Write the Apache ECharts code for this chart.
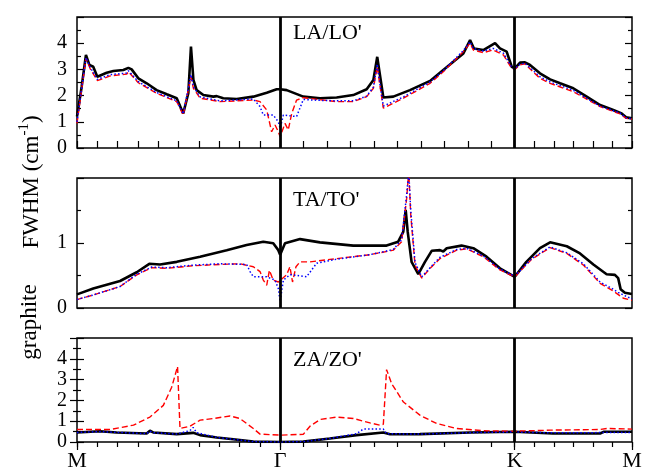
<!DOCTYPE html>
<html>
<head>
<meta charset="utf-8">
<script src="https://cdn.jsdelivr.net/npm/echarts@6/dist/echarts.min.js"></script>
<style>
html,body{margin:0;padding:0;background:#fff;}
#chart{width:654px;height:473px;}
</style>
</head>
<body>
<div id="chart"></div>
<script>
// High-symmetry path: M - Gamma - K - M (path length in units of |GM|)
const hsPos = [0, 1, 2.1547, 2.7321];
const hsLabels = ['M', 'Γ', 'K', 'M'];
const segDivisions = [10, 10, 6];

const panelTitles = ["LA/LO'", "TA/TO'", "ZA/ZO'"];
const yMax = [5, 2, 5];
const yLabelVals = [[0, 1, 2, 3, 4], [0, 1], [0, 1, 2, 3, 4]];

// ---------- LA/LO' ----------
const laBlack = [[0,1.2],[0.023,2.34],[0.044,3.55],[0.061,3.17],[0.080,3.1],[0.100,2.72],[0.146,2.87],[0.179,2.94],[0.228,2.98],[0.253,3.06],[0.269,3.0],[0.302,2.66],[0.343,2.47],[0.392,2.21],[0.442,2.05],[0.491,1.9],[0.523,1.32],[0.548,2.09],[0.561,3.87],[0.573,2.6],[0.589,2.21],[0.622,2.02],[0.671,1.96],[0.688,1.98],[0.720,1.9],[0.786,1.87],[0.868,1.96],[0.934,2.11],[0.983,2.24],[1.0,2.24],[1.032,2.21],[1.114,1.96],[1.196,1.9],[1.278,1.93],[1.360,2.02],[1.426,2.24],[1.459,2.6],[1.478,3.48],[1.495,2.6],[1.508,1.93],[1.557,1.96],[1.639,2.21],[1.738,2.56],[1.803,2.98],[1.902,3.61],[1.935,4.12],[1.954,3.8],[2.000,3.74],[2.058,4.0],[2.082,3.8],[2.115,3.68],[2.140,3.1],[2.155,3.04],[2.181,3.26],[2.205,3.27],[2.230,3.17],[2.279,2.85],[2.329,2.62],[2.378,2.47],[2.443,2.28],[2.509,1.96],[2.575,1.64],[2.640,1.45],[2.681,1.32],[2.703,1.17],[2.732,1.13]];
const laRed = [[0,0.94],[0.044,3.42],[0.064,3.04],[0.100,2.57],[0.163,2.75],[0.245,2.82],[0.253,2.91],[0.302,2.49],[0.392,2.09],[0.491,1.77],[0.523,1.26],[0.561,2.72],[0.573,2.28],[0.606,1.9],[0.704,1.77],[0.868,1.83],[0.901,1.77],[0.934,1.45],[0.958,0.62],[0.975,0.88],[0.991,0.62],[1.0,0.43],[1.024,0.94],[1.040,0.69],[1.057,1.32],[1.081,1.83],[1.114,1.92],[1.278,1.77],[1.360,1.77],[1.426,1.96],[1.459,2.28],[1.478,3.1],[1.492,2.34],[1.508,1.52],[1.607,1.9],[1.738,2.47],[1.803,2.91],[1.902,3.68],[1.935,4.0],[1.951,3.74],[2.000,3.64],[2.049,3.74],[2.099,3.55],[2.140,3.04],[2.155,3.0],[2.181,3.17],[2.205,3.21],[2.279,2.66],[2.329,2.47],[2.443,2.15],[2.575,1.58],[2.674,1.3],[2.703,1.13],[2.732,1.1]];
const laBlue = [[0,1.0],[0.044,3.45],[0.064,3.1],[0.100,2.62],[0.163,2.8],[0.245,2.86],[0.253,2.95],[0.302,2.53],[0.392,2.12],[0.491,1.8],[0.523,1.3],[0.561,2.8],[0.573,2.35],[0.606,1.95],[0.704,1.8],[0.868,1.87],[0.901,1.58],[0.917,1.26],[0.966,1.26],[0.991,1.0],[1.0,0.75],[1.016,1.26],[1.081,1.2],[1.114,1.85],[1.196,1.82],[1.278,1.8],[1.360,1.8],[1.426,1.98],[1.459,2.32],[1.478,3.2],[1.492,2.4],[1.508,1.6],[1.607,1.95],[1.738,2.52],[1.803,2.95],[1.902,3.72],[1.935,4.05],[1.951,3.8],[2.000,3.7],[2.049,3.8],[2.099,3.62],[2.140,3.08],[2.155,3.03],[2.181,3.2],[2.205,3.24],[2.279,2.72],[2.329,2.52],[2.443,2.2],[2.575,1.6],[2.674,1.33],[2.703,1.15],[2.732,1.12]];

// ---------- TA/TO' ----------
const taBlack = [[0,0.21],[0.080,0.30],[0.212,0.415],[0.294,0.55],[0.356,0.68],[0.409,0.67],[0.491,0.71],[0.606,0.79],[0.737,0.89],[0.835,0.97],[0.917,1.02],[0.966,0.995],[0.991,0.89],[1.0,0.82],[1.024,0.995],[1.098,1.06],[1.196,1.01],[1.360,0.96],[1.524,0.96],[1.581,1.02],[1.606,1.17],[1.618,1.51],[1.628,1.17],[1.647,0.71],[1.680,0.52],[1.713,0.71],[1.746,0.88],[1.787,0.89],[1.803,0.87],[1.820,0.92],[1.893,0.96],[1.951,0.92],[2.016,0.79],[2.082,0.61],[2.155,0.48],[2.212,0.71],[2.279,0.92],[2.329,1.01],[2.411,0.95],[2.476,0.84],[2.542,0.67],[2.607,0.52],[2.648,0.51],[2.664,0.46],[2.676,0.29],[2.697,0.235],[2.732,0.215]];
const taRed = [[0,0.13],[0.080,0.2],[0.212,0.33],[0.294,0.51],[0.368,0.62],[0.442,0.61],[0.572,0.65],[0.704,0.67],[0.802,0.68],[0.868,0.635],[0.901,0.56],[0.917,0.43],[0.934,0.35],[0.947,0.58],[0.966,0.43],[0.991,0.4],[1.0,0.4],[1.032,0.51],[1.048,0.635],[1.061,0.40],[1.078,0.635],[1.098,0.71],[1.147,0.71],[1.278,0.76],[1.442,0.82],[1.557,0.89],[1.598,1.02],[1.623,1.69],[1.633,2.1],[1.643,1.43],[1.664,0.66],[1.697,0.46],[1.738,0.61],[1.787,0.76],[1.869,0.89],[1.918,0.91],[2.000,0.79],[2.082,0.585],[2.155,0.48],[2.238,0.75],[2.329,0.93],[2.411,0.84],[2.493,0.66],[2.575,0.38],[2.640,0.26],[2.690,0.15],[2.732,0.12]];
const taBlue = [[0,0.13],[0.080,0.2],[0.212,0.33],[0.294,0.52],[0.368,0.63],[0.442,0.62],[0.572,0.66],[0.704,0.68],[0.835,0.67],[0.852,0.56],[0.868,0.48],[0.934,0.48],[0.975,0.43],[0.991,0.3],[1.0,0.1],[1.016,0.43],[1.048,0.51],[1.064,0.51],[1.130,0.48],[1.180,0.69],[1.278,0.75],[1.442,0.82],[1.557,0.9],[1.598,1.05],[1.623,1.75],[1.633,2.1],[1.643,1.5],[1.664,0.7],[1.697,0.48],[1.738,0.62],[1.787,0.78],[1.869,0.9],[1.918,0.92],[2.000,0.8],[2.082,0.6],[2.155,0.49],[2.238,0.76],[2.329,0.94],[2.411,0.85],[2.493,0.68],[2.575,0.4],[2.640,0.29],[2.664,0.24],[2.690,0.2],[2.732,0.14]];

// ---------- ZA/ZO' ----------
const zaBlack = [[0,0.46],[0.113,0.52],[0.195,0.46],[0.343,0.41],[0.359,0.54],[0.375,0.46],[0.491,0.38],[0.572,0.44],[0.606,0.33],[0.688,0.22],[0.769,0.13],[0.868,0.02],[1.0,0.0],[1.114,0.02],[1.245,0.17],[1.376,0.33],[1.508,0.46],[1.541,0.37],[1.688,0.38],[1.935,0.46],[2.155,0.49],[2.343,0.41],[2.575,0.41],[2.592,0.49],[2.732,0.49]];
const zaRed = [[0,0.6],[0.163,0.6],[0.278,0.81],[0.359,1.2],[0.425,1.76],[0.466,2.63],[0.495,3.63],[0.507,0.65],[0.556,0.76],[0.606,1.05],[0.671,1.13],[0.753,1.25],[0.802,1.13],[0.868,0.65],[0.901,0.38],[1.0,0.33],[1.114,0.37],[1.147,0.76],[1.196,1.08],[1.278,1.2],[1.360,1.13],[1.442,0.92],[1.491,0.81],[1.508,0.85],[1.524,3.48],[1.549,2.8],[1.607,1.92],[1.688,1.29],[1.770,0.89],[1.869,0.65],[2.000,0.54],[2.155,0.52],[2.329,0.57],[2.575,0.6],[2.608,0.65],[2.732,0.62]];
const zaBlue = [[0,0.46],[0.113,0.5],[0.343,0.4],[0.359,0.52],[0.375,0.45],[0.491,0.38],[0.556,0.55],[0.572,0.7],[0.589,0.45],[0.688,0.22],[0.769,0.13],[0.868,0.02],[1.0,0.0],[1.114,0.02],[1.245,0.17],[1.376,0.4],[1.409,0.62],[1.508,0.62],[1.524,0.4],[1.688,0.38],[1.935,0.45],[2.155,0.48],[2.343,0.44],[2.732,0.46]];

const panels = [[laBlack, laRed, laBlue], [taBlack, taRed, taBlue], [zaBlack, zaRed, zaBlue]];

// tick positions along path
const xTicks = [];
for (let i = 0; i < segDivisions.length; i++) {
  const a = hsPos[i], b = hsPos[i + 1], n = segDivisions[i];
  for (let j = 0; j < n; j++) xTicks.push(a + (b - a) * j / n);
}
xTicks.push(hsPos[hsPos.length - 1]);

const FONT = 'Liberation Serif';
const grids = [
  { left: 77, right: 22, top: 17, height: 131 },
  { left: 77, right: 22, top: 178, height: 130 },
  { left: 77, right: 22, top: 338, height: 104 }
].map(g => Object.assign(g, { show: true, borderColor: '#000', borderWidth: 1.5, backgroundColor: 'transparent' }));

const xMax = hsPos[hsPos.length - 1];
const xAxes = [];
for (let p = 0; p < 3; p++) {
  xAxes.push({
    type: 'value', gridIndex: p, min: 0, max: xMax,
    position: p === 0 ? 'top' : 'bottom',
    axisLine: { show: false }, splitLine: { show: false },
    axisTick: {
      show: p !== 1, inside: false, length: p === 0 ? 7 : 5,
      customValues: xTicks, lineStyle: { color: '#000', width: 1.2 }
    },
    axisLabel: p === 2 ? {
      show: true, customValues: hsPos, color: '#000', fontFamily: FONT, fontSize: 22, margin: 8,
      showMinLabel: true, showMaxLabel: true,
      formatter: v => { const i = hsPos.findIndex(q => Math.abs(q - v) < 1e-6); return i >= 0 ? hsLabels[i] : ''; }
    } : { show: false }
  });
}
// longer ticks at high-symmetry points on bottom axis
xAxes.push({
  type: 'value', gridIndex: 2, min: 0, max: xMax, position: 'bottom',
  axisLine: { show: false }, splitLine: { show: false },
  axisTick: { show: true, inside: false, length: 8, customValues: hsPos, lineStyle: { color: '#000', width: 1.2 } },
  axisLabel: { show: false }
});

const yAxes = [];
for (let p = 0; p < 3; p++) {
  yAxes.push({
    type: 'value', gridIndex: p, min: 0, max: yMax[p], interval: 1, position: 'left',
    axisLine: { show: false }, splitLine: { show: false },
    axisTick: { show: true, inside: true, length: 7, lineStyle: { color: '#000', width: 1.2 } },
    minorTick: { show: true, splitNumber: 2, length: 4, lineStyle: { color: '#000', width: 1.2 } },
    axisLabel: { customValues: yLabelVals[p], color: '#000', fontFamily: FONT, fontSize: 20, margin: 10 }
  });
}
for (let p = 0; p < 3; p++) {
  yAxes.push({
    type: 'value', gridIndex: p, min: 0, max: yMax[p], interval: 1, position: 'right',
    axisLine: { show: false }, splitLine: { show: false },
    axisTick: { show: true, inside: true, length: 7, lineStyle: { color: '#000', width: 1.2 } },
    minorTick: { show: true, splitNumber: 2, length: 4, lineStyle: { color: '#000', width: 1.2 } },
    axisLabel: { show: false }
  });
}

const styles = [
  { color: '#000000', width: 2.6, type: 'solid' },
  { color: '#ff0000', width: 1.4, type: [6, 3] },
  { color: '#0000ff', width: 1.5, type: [1.5, 2.2] }
];

const series = [];
for (let p = 0; p < 3; p++) {
  for (let s = 0; s < 3; s++) {
    const ser = {
      type: 'line', xAxisIndex: p, yAxisIndex: p, data: panels[p][s],
      symbol: 'none', showSymbol: false, clip: true, z: 2 + s,
      lineStyle: styles[s], silent: true
    };
    if (s === 0) {
      ser.markLine = {
        silent: true, symbol: 'none', label: { show: false },
        lineStyle: { color: '#000', width: 2.8, type: 'solid' },
        data: [{ xAxis: hsPos[1] }, { xAxis: hsPos[2] }]
      };
    }
    series.push(ser);
  }
}

const titleCenters = [33, 200, 360];
const graphic = panelTitles.map((t, i) => ({
  type: 'text', x: 293, y: titleCenters[i], z: 10,
  style: { text: t, fontFamily: FONT, fontSize: 22, fill: '#000', align: 'left', verticalAlign: 'middle' }
}));
graphic.push({
  type: 'text', x: 30, y: 182, rotation: Math.PI / 2, z: 10,
  style: {
    text: '{a|FWHM (cm}{s|-1}{a|)}', align: 'center', verticalAlign: 'middle',
    rich: {
      a: { fontFamily: FONT, fontSize: 23, fill: '#000', lineHeight: 26, verticalAlign: 'bottom' },
      s: { fontFamily: FONT, fontSize: 15, fill: '#000', lineHeight: 26, verticalAlign: 'top' }
    }
  }
});
graphic.push({
  type: 'text', x: 30, y: 322, rotation: Math.PI / 2, z: 10,
  style: { text: 'graphite', fontFamily: FONT, fontSize: 23, fill: '#000', align: 'center', verticalAlign: 'middle' }
});

const chart = echarts.init(document.getElementById('chart'), null, { renderer: 'canvas' });
chart.setOption({
  animation: false,
  backgroundColor: '#fff',
  grid: grids,
  xAxis: xAxes,
  yAxis: yAxes,
  series: series,
  graphic: graphic
});
</script>
</body>
</html>
